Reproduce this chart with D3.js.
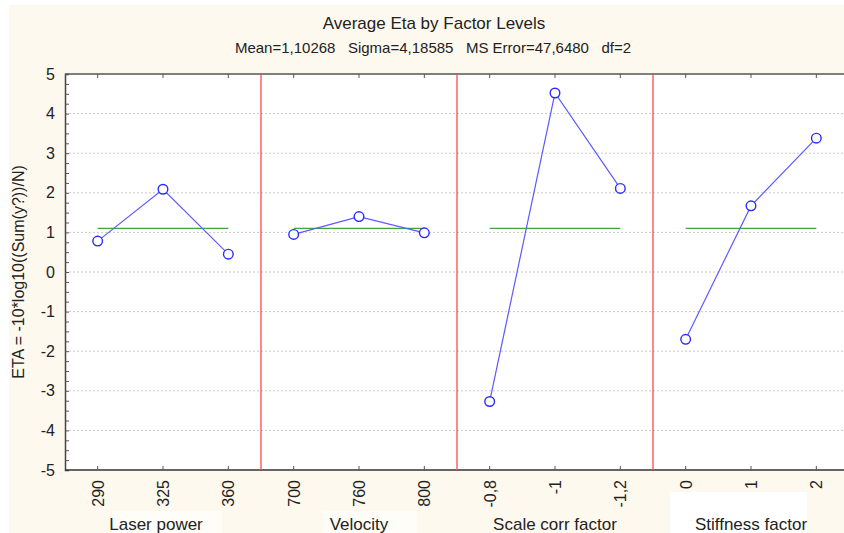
<!DOCTYPE html>
<html>
<head>
<meta charset="utf-8">
<script src="https://cdn.jsdelivr.net/npm/d3@7"></script>
<style>
  body { margin: 0; background: #fff; }
  text { font-family: "Liberation Sans", Arial, sans-serif; fill: #222; }
</style>
</head>
<body>
<div id="root"></div>
<script>
const width = 844;
const height = 533;

// factors and their levels
const factors = ['Laser power', 'Velocity', 'Scale corr factor', 'Stiffness factor'];
const levels = [
  ['290', '325', '360'],
  ['700', '760', '800'],
  ['-0,8', '-1', '-1,2'],
  ['0', '1', '2']
];
// average eta per level
const etaLaser = [0.78, 2.09, 0.45];
const etaVelocity = [0.95, 1.40, 0.99];
const etaScale = [-3.27, 4.52, 2.11];
const etaStiffness = [-1.70, 1.67, 3.38];
const means = [1.10268, 1.10268, 1.10268, 1.10268];
const yTicks = [5, 4, 3, 2, 1, 0, -1, -2, -3, -4, -5];

const series = [etaLaser, etaVelocity, etaScale, etaStiffness];

const plot = {left: 65, top: 74, bottom: 470, panelW: 196};

const svg = d3.select('#root')
  .append('svg')
  .attr('width', width).attr('height', height);

// cream page behind the chart
svg.append('rect')
  .attr('x', 9).attr('y', 5)
  .attr('width', width - 9).attr('height', height - 5)
  .attr('fill', '#fef9ee');

var yScale = d3.scaleLinear()
  .domain([-5, 5])
  .range([plot.bottom, plot.top]);

var panelScale = d3.scaleBand()
  .domain(factors)
  .range([plot.left, plot.left + plot.panelW * factors.length]);

// white plot area
svg.append('rect')
  .attr('x', plot.left).attr('y', plot.top)
  .attr('width', width - plot.left + 10).attr('height', plot.bottom - plot.top)
  .attr('fill', '#fff');

// dotted grid
svg.append('g')
  .selectAll('line')
  .data(yTicks.slice(1, -1)).enter()
  .append('line')
  .attr('x1', plot.left).attr('x2', width)
  .attr('y1', d => yScale(d)).attr('y2', d => yScale(d))
  .attr('stroke', '#c8c8c8')
  .attr('stroke-dasharray', '2,2');

// pale boxes behind the factor titles
const boxes = [[112, 511, 110, 22, '#fffdf7'], [323, 511, 94, 22, '#fffdf7'], [670, 492, 137, 41, '#fff']];
svg.append('g').selectAll('rect')
  .data(boxes).enter()
  .append('rect')
  .attr('x', d => d[0]).attr('y', d => d[1])
  .attr('width', d => d[2]).attr('height', d => d[3])
  .attr('fill', d => d[4]);

// y axis, ticks inward
var yAxis = d3.axisRight(yScale)
  .tickValues(d3.range(-5, 5.01, 0.25))
  .tickSize(4)
  .tickFormat('');
svg.append('g')
  .attr('transform', `translate(${plot.left}, 0)`)
  .call(yAxis)
  .call(g => g.select('.domain').attr('stroke', '#444').attr('stroke-width', 1.5))
  .call(g => g.selectAll('.tick line').attr('stroke', '#555'));

svg.append('g')
  .selectAll('text')
  .data(yTicks).enter()
  .append('text')
  .attr('x', 55)
  .attr('y', d => yScale(d))
  .attr('dy', '0.35em')
  .attr('text-anchor', 'end')
  .style('font-size', '16px')
  .text(d => d);

// top and bottom frame
svg.append('line')
  .attr('x1', plot.left).attr('x2', width)
  .attr('y1', plot.top).attr('y2', plot.top)
  .attr('stroke', '#555').attr('stroke-width', 1.5);
svg.append('line')
  .attr('x1', plot.left).attr('x2', width)
  .attr('y1', plot.bottom).attr('y2', plot.bottom)
  .attr('stroke', '#333').attr('stroke-width', 1.5);

// red separators
svg.append('g')
  .selectAll('line')
  .data(factors.slice(1)).enter()
  .append('line')
  .attr('x1', d => panelScale(d)).attr('x2', d => panelScale(d))
  .attr('y1', plot.top).attr('y2', plot.bottom)
  .attr('stroke', '#ff4a4a').attr('stroke-width', 1.3);

const titleShift = [-7, 0, 0, 0];

factors.forEach((f, i) => {
  const x0 = panelScale(f);
  var xScale = d3.scalePoint()
    .domain(levels[i])
    .range([x0, x0 + panelScale.bandwidth()])
    .padding(0.5);

  const pg = svg.append('g');

  // small ticks on top and bottom
  pg.selectAll('.tt')
    .data(levels[i]).enter()
    .append('line')
    .attr('x1', d => xScale(d)).attr('x2', d => xScale(d))
    .attr('y1', plot.top).attr('y2', plot.top + 4)
    .attr('stroke', '#555');
  pg.selectAll('.tb')
    .data(levels[i]).enter()
    .append('line')
    .attr('x1', d => xScale(d)).attr('x2', d => xScale(d))
    .attr('y1', plot.bottom).attr('y2', plot.bottom - 4)
    .attr('stroke', '#555');

  // level labels, rotated
  pg.selectAll('.lbl')
    .data(levels[i]).enter()
    .append('text')
    .attr('transform', d => `translate(${xScale(d) + 6}, 480) rotate(-90)`)
    .attr('text-anchor', 'end')
    .style('font-size', '16px')
    .text(d => d);

  // mean line
  pg.append('line')
    .attr('x1', xScale(levels[i][0]))
    .attr('x2', xScale(levels[i][levels[i].length - 1]))
    .attr('y1', yScale(means[i])).attr('y2', yScale(means[i]))
    .attr('stroke', '#3fa63f').attr('stroke-width', 1.3);

  const pts = series[i].map((v, j) => [xScale(levels[i][j]), yScale(v)]);
  pg.append('path')
    .attr('d', d3.line()(pts))
    .attr('fill', 'none')
    .attr('stroke', '#5b5bff')
    .attr('stroke-width', 1.2);

  pg.selectAll('circle')
    .data(pts).enter()
    .append('circle')
    .attr('cx', d => d[0]).attr('cy', d => d[1])
    .attr('r', 4.8)
    .attr('fill', '#fff')
    .attr('stroke', '#2a2aff')
    .attr('stroke-width', 1.4);

  pg.append('text')
    .attr('x', x0 + panelScale.bandwidth() / 2 + titleShift[i])
    .attr('y', 530)
    .attr('text-anchor', 'middle')
    .style('font-size', '17px')
    .text(f);
});

// titles
svg.append('text')
  .attr('x', 434).attr('y', 29)
  .attr('text-anchor', 'middle')
  .style('font-size', '17px')
  .text('Average Eta by Factor Levels');
svg.append('text')
  .attr('x', 433).attr('y', 53)
  .attr('text-anchor', 'middle')
  .style('font-size', '15px')
  .attr('xml:space', 'preserve')
  .style('white-space', 'pre')
  .text('Mean=1,10268   Sigma=4,18585   MS Error=47,6480   df=2');

svg.append('text')
  .attr('transform', `translate(24, ${yScale(0)}) rotate(-90)`)
  .attr('text-anchor', 'middle')
  .style('font-size', '16px')
  .text('ETA = -10*log10((Sum(y?))/N)');
</script>
</body>
</html>
